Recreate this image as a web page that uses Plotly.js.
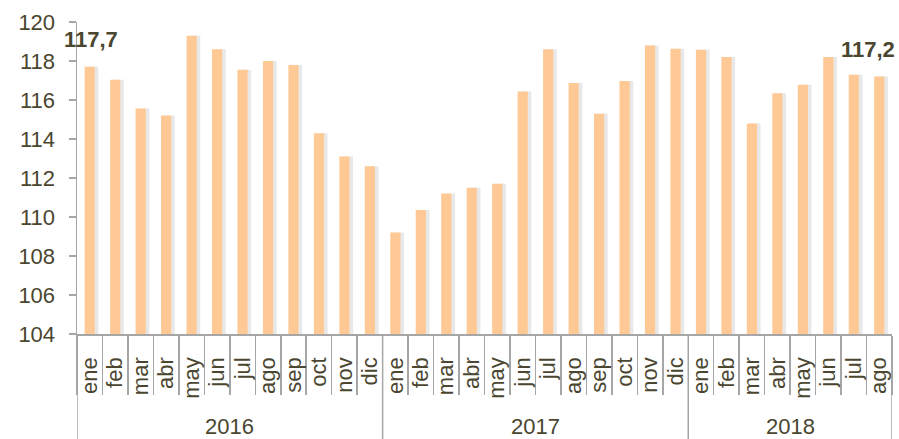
<!DOCTYPE html>
<html>
<head>
<meta charset="utf-8">
<script src="https://cdn.plot.ly/plotly-3.0.1.min.js"></script>
<style>
  html, body { margin: 0; padding: 0; background: #ffffff; }
  #chart { width: 899px; height: 439px; }
</style>
</head>
<body>
<div id="chart"></div>
<script>
// ---- Data ----
const years = ['2016', '2017', '2018'];
const months2016 = ['ene','feb','mar','abr','may','jun','jul','ago','sep','oct','nov','dic'];
const months2017 = ['ene','feb','mar','abr','may','jun','jul','ago','sep','oct','nov','dic'];
const months2018 = ['ene','feb','mar','abr','may','jun','jul','ago'];
const values2016 = [117.7, 117.04, 115.57, 115.2, 119.3, 118.6, 117.55, 118.0, 117.8, 114.3, 113.1, 112.6];
const values2017 = [109.2, 110.36, 111.2, 111.5, 111.7, 116.44, 118.6, 116.87, 115.3, 116.97, 118.8, 118.63];
const values2018 = [118.58, 118.2, 114.8, 116.34, 116.78, 118.2, 117.3, 117.2];
const labelledIdx = [0, 31]; // first and last value are labelled

// ---- Build series ----
const groups = [
  { year: years[0], months: months2016, values: values2016 },
  { year: years[1], months: months2017, values: values2017 },
  { year: years[2], months: months2018, values: values2018 }
];
const cats = [], ticktext = [], vals = [];
groups.forEach(g => g.months.forEach((m, i) => {
  cats.push(g.year + '-' + m);
  ticktext.push(m);
  vals.push(g.values[i]);
}));

const textColor = '#4a4630';
const lineColor = '#a6a6a6';
const font = 'Liberation Sans, Arial, sans-serif';

const shadow = {
  type: 'bar', x: cats, y: vals, width: 0.42, offset: -0.21 + 0.13,
  marker: { color: 'rgba(0,0,0,0.09)', line: { width: 0 } },
  hoverinfo: 'skip', showlegend: false
};
const bars = {
  type: 'bar', x: cats, y: vals, width: 0.4, offset: -0.2,
  marker: { color: '#ffc995', line: { width: 0 } },
  hoverinfo: 'skip', showlegend: false
};

// ---- Annotations: value labels and year labels ----
const annotations = [];
labelledIdx.forEach((idx, k) => {
  annotations.push({
    x: cats[idx], y: vals[idx], xref: 'x', yref: 'y',
    text: vals[idx].toFixed(1).replace('.', ','),
    showarrow: false, yanchor: 'middle', xanchor: 'center',
    yshift: 27, xshift: k === labelledIdx.length - 1 ? -11 : 1,
    font: { family: font, size: 22, color: textColor, weight: 'bold' }
  });
});
const shapes = [];
let start = 0;
shapes.push({ type: 'line', xref: 'x', yref: 'paper', x0: -0.5, x1: -0.5, y0: 0, y1: -0.34,
  line: { color: lineColor, width: 1.5 } });
groups.forEach(g => {
  const n = g.months.length;
  annotations.push({
    x: start + (n - 1) / 2, y: -0.298, xref: 'x', yref: 'paper',
    text: g.year, showarrow: false, yanchor: 'middle', xanchor: 'center',
    font: { family: font, size: 22, color: textColor }
  });
  start += n;
  shapes.push({ type: 'line', xref: 'x', yref: 'paper', x0: start - 0.5, x1: start - 0.5, y0: 0, y1: -0.34,
    line: { color: lineColor, width: 1.5 } });
});

const layout = {
  width: 899, height: 439,
  margin: { l: 77, r: 7, t: 22, b: 105, pad: 0 },
  paper_bgcolor: '#ffffff', plot_bgcolor: '#ffffff',
  barmode: 'overlay',
  showlegend: false,
  hovermode: false,
  font: { family: font, size: 22, color: textColor },
  xaxis: {
    type: 'category', categoryorder: 'array', categoryarray: cats,
    tickvals: cats, ticktext: ticktext, tickangle: -90,
    range: [-0.5, cats.length - 0.5],
    ticks: 'outside', tickson: 'boundaries', ticklen: 59, tickwidth: 1.5, tickcolor: lineColor,
    ticklabelstandoff: 13,
    showline: true, linecolor: lineColor, linewidth: 1.5,
    showgrid: false, zeroline: false,
    tickfont: { family: font, size: 22, color: textColor }
  },
  yaxis: {
    range: [104, 120], dtick: 2, tick0: 104,
    ticks: 'outside', ticklen: 7, tickwidth: 1.5, tickcolor: lineColor,
    ticklabelstandoff: 9,
    showline: true, linecolor: lineColor, linewidth: 1.5,
    showgrid: false, zeroline: false,
    tickfont: { family: font, size: 22, color: textColor }
  },
  annotations: annotations,
  shapes: shapes
};

Plotly.newPlot('chart', [shadow, bars], layout, { displayModeBar: false, staticPlot: true });
</script>
</body>
</html>
